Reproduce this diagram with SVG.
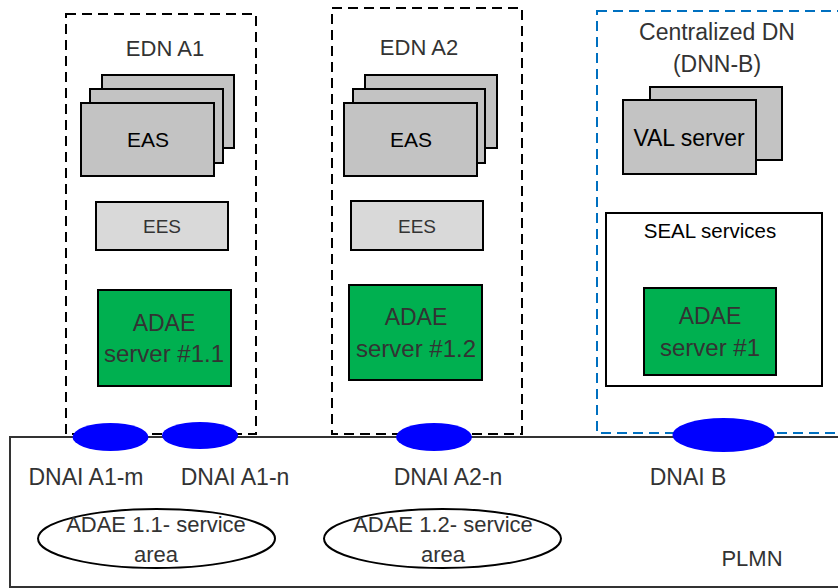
<svg xmlns="http://www.w3.org/2000/svg" width="838" height="588" viewBox="0 0 838 588">
<style>
text{font-family:"Liberation Sans",Arial,sans-serif;text-anchor:middle;fill:#333}
.dash{fill:none;stroke:#000;stroke-width:2;stroke-dasharray:10 6}
.bdash{fill:none;stroke:#0070C0;stroke-width:2;stroke-dasharray:10 6}
.eas{fill:#C3C3C3;stroke:#000;stroke-width:2}
.ees{fill:#D9D9D9;stroke:#000;stroke-width:2}
.adae{fill:#00B050;stroke:#000;stroke-width:2}
.dnai{fill:#0000FF}
.area{fill:none;stroke:#000;stroke-width:2}
</style>
<rect width="838" height="588" fill="#fff"/>
<g id="plmn">
<rect x="10" y="437" width="850" height="150" fill="none" stroke="#333" stroke-width="2"/>
<text x="752" y="566" font-size="22">PLMN</text>
</g>
<g id="edn-a1">
<rect class="dash" x="66" y="14" width="190" height="420"/>
<text x="165" y="56" font-size="22">EDN A1</text>
</g>
<g id="eas-a1">
<rect class="eas" x="102" y="75" width="132" height="73"/>
<rect class="eas" x="90" y="89" width="133" height="74"/>
<rect class="eas" x="81" y="103" width="133" height="73"/>
<text x="148" y="147" font-size="21" style="fill:#000">EAS</text>
</g>
<g id="ees-a1">
<rect class="ees" x="96" y="202" width="132" height="48"/>
<text x="162" y="233" font-size="19">EES</text>
</g>
<g id="adae-1-1">
<rect class="adae" x="98" y="290" width="133" height="96"/>
<text x="164" y="331" font-size="23">ADAE</text>
<text x="164" y="362" font-size="24">server #1.1</text>
</g>
<g id="edn-a2">
<rect class="dash" x="332" y="8" width="190" height="426"/>
<text x="419" y="55" font-size="22">EDN A2</text>
</g>
<g id="eas-a2">
<rect class="eas" x="365" y="75" width="132" height="73"/>
<rect class="eas" x="353" y="89" width="132" height="74"/>
<rect class="eas" x="344" y="103" width="133" height="73"/>
<text x="411" y="147" font-size="21" style="fill:#000">EAS</text>
</g>
<g id="ees-a2">
<rect class="ees" x="351" y="201" width="132" height="49"/>
<text x="417" y="233" font-size="19">EES</text>
</g>
<g id="adae-1-2">
<rect class="adae" x="349" y="285" width="133" height="95"/>
<text x="416" y="325" font-size="23">ADAE</text>
<text x="416" y="357" font-size="24">server #1.2</text>
</g>
<g id="centralized-dn">
<rect class="bdash" x="597" y="11" width="260" height="422"/>
<text x="717" y="40" font-size="23">Centralized DN</text>
<text x="717" y="72" font-size="23">(DNN-B)</text>
</g>
<g id="val-server">
<rect class="eas" x="650" y="87" width="132" height="73"/>
<rect class="eas" x="623" y="100" width="133" height="74"/>
<text x="689" y="146" font-size="23" style="fill:#000">VAL server</text>
</g>
<g id="seal-services">
<rect x="606" y="213" width="216" height="173" fill="#fff" stroke="#000" stroke-width="2"/>
<text x="710" y="238" font-size="20.5" style="fill:#000">SEAL services</text>
</g>
<g id="adae-1">
<rect class="adae" x="644" y="288" width="132" height="87"/>
<text x="710" y="324" font-size="23">ADAE</text>
<text x="710" y="356" font-size="24">server #1</text>
</g>
<g id="dnai-a1-m">
<ellipse class="dnai" cx="110.5" cy="437" rx="38" ry="14"/>
<text x="86" y="485" font-size="23">DNAI A1-m</text>
</g>
<g id="dnai-a1-n">
<ellipse class="dnai" cx="200" cy="435.5" rx="38" ry="13.5"/>
<text x="235" y="485" font-size="23">DNAI A1-n</text>
</g>
<g id="dnai-a2-n">
<ellipse class="dnai" cx="434" cy="437" rx="38" ry="14"/>
<text x="448" y="485" font-size="23">DNAI A2-n</text>
</g>
<g id="dnai-b">
<ellipse class="dnai" cx="723.5" cy="435" rx="51" ry="17"/>
<text x="688" y="485" font-size="23">DNAI B</text>
</g>
<g id="adae-1-1-area">
<ellipse class="area" cx="156.5" cy="538.5" rx="118.5" ry="29.5"/>
<text x="156" y="532" font-size="22">ADAE 1.1- service</text>
<text x="156" y="562" font-size="22">area</text>
</g>
<g id="adae-1-2-area">
<ellipse class="area" cx="442.5" cy="538.5" rx="118.5" ry="29.5"/>
<text x="443" y="532" font-size="22">ADAE 1.2- service</text>
<text x="443" y="562" font-size="22">area</text>
</g>
</svg>
